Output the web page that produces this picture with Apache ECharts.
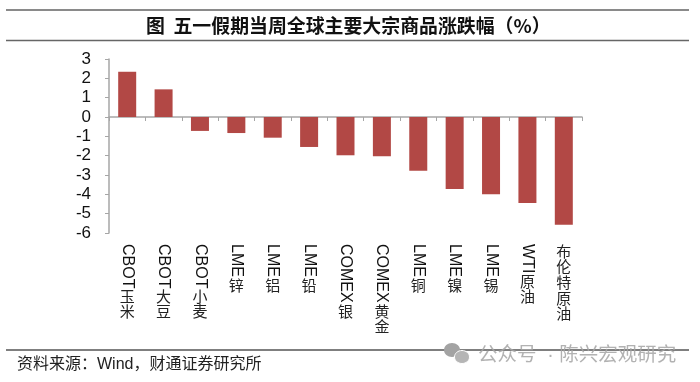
<!DOCTYPE html>
<html><head><meta charset="utf-8">
<style>html,body{margin:0;padding:0;background:#fff}#c{width:700px;height:382px}</style>
<script src="https://cdn.jsdelivr.net/npm/echarts@6/dist/echarts.min.js"></script>
</head><body><div id="c"></div>
<script>
const latinLabels=['CBOT','CBOT','CBOT','LME','LME','LME','COMEX','COMEX','LME','LME','LME','WTI',''];
const cjkLabels=['玉米','大豆','小麦','锌','铝','铅','银','黄金','铜','镍','锡','原油','布伦特原油'];
const values=[2.34,1.43,-0.72,-0.83,-1.07,-1.55,-1.98,-2.03,-2.78,-3.72,-4.0,-4.45,-5.57];
const yMin=-6,yMax=3;
const titleText='图  五一假期当周全球主要大宗商品涨跌幅（%）';
const sourceText='资料来源：Wind，财通证券研究所';
const watermarkText='公众号  · 陈兴宏观研究';

const LATIN='"Liberation Sans",Arial,sans-serif';
const MIXED='"Liberation Sans","Noto Sans CJK SC",sans-serif';
const CJK='"Noto Sans CJK SC",sans-serif';
const FS=16;
const ctx=document.createElement('canvas').getContext('2d');
ctx.font=FS+'px "Liberation Sans"';
const rich={c:{fontFamily:CJK,fontSize:15,lineHeight:15.7,color:'#222',align:'center'}};
latinLabels.forEach((t,i)=>{rich['s'+i]={fontSize:1,lineHeight:Math.round(ctx.measureText(t).width)+1,color:'#fff'};});
const cats=cjkLabels.map((_,i)=>String(i));

const chart=echarts.init(document.getElementById('c'),null,{renderer:'canvas'});
const AX='#a6a6a6';
chart.setOption({
 animation:false,backgroundColor:'#fff',
 grid:{left:109,right:118,top:59,bottom:149,containLabel:false},
 xAxis:[
  {type:'category',data:cats,position:'bottom',axisLine:{onZero:true,lineStyle:{color:AX,width:1.5}},
   axisTick:{show:true,inside:false,length:4,alignWithLabel:false,lineStyle:{color:AX,width:1}},axisLabel:{show:false},splitLine:{show:false}},
  {type:'category',data:cats,position:'bottom',axisLine:{show:false,onZero:false},axisTick:{show:false},splitLine:{show:false},
   axisLabel:{show:true,interval:0,rotate:-90,margin:11,align:'left',verticalAlign:'middle',fontFamily:LATIN,fontSize:FS,color:'#111',
    formatter:(v,i)=>latinLabels[i]}},
  {type:'category',data:cats,position:'bottom',axisLine:{show:false,onZero:false},axisTick:{show:false},splitLine:{show:false},
   axisLabel:{show:true,interval:0,margin:10,align:'center',verticalAlign:'top',fontFamily:CJK,fontSize:15,color:'#222',rich:rich,
    formatter:(v,i)=>(latinLabels[i]?'{s'+i+'| }\n':'')+cjkLabels[i].split('').map(ch=>'{c|'+ch+'}').join('\n')}}
 ],
 yAxis:{type:'value',min:yMin,max:yMax,interval:1,
  axisLine:{show:true,onZero:false,lineStyle:{color:AX,width:1.5}},
  axisTick:{show:true,length:4,lineStyle:{color:AX,width:1}},
  axisLabel:{margin:18,fontFamily:LATIN,fontSize:17,color:'#111'},splitLine:{show:false}},
 series:[{type:'bar',data:values,barWidth:18,xAxisIndex:0,itemStyle:{color:'#b24845'},silent:true}],
 graphic:[
  {type:'line',shape:{x1:6,y1:10,x2:689,y2:10},style:{stroke:'#8a8a8a',lineWidth:2}},
  {type:'line',shape:{x1:6,y1:40.5,x2:689,y2:40.5},style:{stroke:'#666',lineWidth:1.5}},
  {type:'line',shape:{x1:6,y1:350,x2:689,y2:350},style:{stroke:'#555',lineWidth:1.5}},
  {type:'text',x:146,y:26,style:{text:titleText,fontFamily:CJK,fontWeight:'bold',fontSize:18.9,fill:'#111',verticalAlign:'middle'}},
  {type:'text',x:17,y:365,style:{text:sourceText,fontFamily:MIXED,fontSize:16,fill:'#222',verticalAlign:'middle'}},
  {type:'ellipse',shape:{cx:452,cy:350,rx:8,ry:7},z:10,style:{fill:'#a3a3a3'}},
  {type:'ellipse',shape:{cx:462,cy:357,rx:7.5,ry:6.5},z:11,style:{fill:'#b5b5b5',stroke:'#fff',lineWidth:1}},
  {type:'text',x:478,y:356,z:10,style:{text:watermarkText,fontFamily:MIXED,fontSize:19.5,fill:'rgba(165,165,165,0.85)',verticalAlign:'middle'}}
 ]
});
</script></body></html>
